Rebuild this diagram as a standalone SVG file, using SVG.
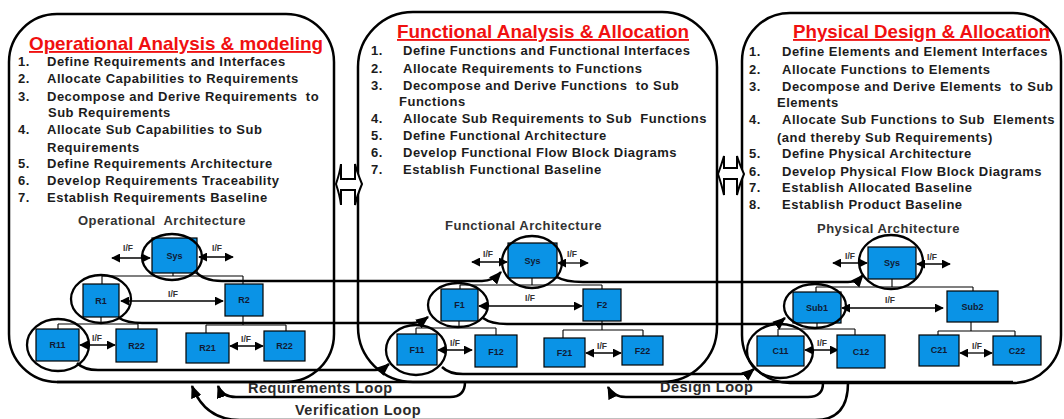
<svg xmlns="http://www.w3.org/2000/svg" width="1064" height="419" viewBox="0 0 1064 419">
<defs>
<marker id="big" viewBox="0 0 12 10" refX="11" refY="5" markerWidth="13" markerHeight="11" markerUnits="userSpaceOnUse" orient="auto"><path d="M0,0 L12,5 L0,10 z" fill="#000"/></marker>
<marker id="ifa" viewBox="0 0 10 10" refX="9" refY="5" markerWidth="9" markerHeight="9" markerUnits="userSpaceOnUse" orient="auto-start-reverse"><path d="M0,0 L10,5 L0,10 z" fill="#000"/></marker>
<style>
.panel{fill:none;stroke:#000;stroke-width:2.5}
.title{font-family:"Liberation Sans",Arial,sans-serif;font-weight:bold;font-size:18.6px;fill:#f01010;text-decoration:underline}
.li{font-family:"Liberation Sans",Arial,sans-serif;font-weight:bold;font-size:13px;letter-spacing:0.5px;fill:#1c1c1c;white-space:pre}
.arch{font-family:"Liberation Sans",Arial,sans-serif;font-weight:bold;font-size:13px;letter-spacing:0.5px;fill:#333;white-space:pre}
.loop{font-family:"Liberation Sans",Arial,sans-serif;font-weight:bold;font-size:14.5px;letter-spacing:0.5px;fill:#2a2a2a}
.box{fill:#0a93e6;stroke:#000;stroke-width:1.2}
.ring{fill:none;stroke:#000;stroke-width:2.3}
.nl{font-family:"Liberation Sans",Arial,sans-serif;font-weight:bold;font-size:9px;fill:#111a33;text-anchor:middle}
.ifl{font-family:"Liberation Sans",Arial,sans-serif;font-weight:bold;font-size:8.5px;fill:#333;text-anchor:middle}
.if{stroke:#000;stroke-width:1.3;marker-start:url(#ifa);marker-end:url(#ifa)}
.tree{fill:none;stroke:#000;stroke-width:1.1}
.conn{fill:none;stroke:#000;stroke-width:2.5}
.arr{marker-end:url(#big)}
.blk{fill:#fff;stroke:#000;stroke-width:2}
</style>
</defs>

<g id="panel-operational">
<rect class="panel" x="9" y="14" width="325" height="368" rx="48" ry="48"/>
<text class="title" x="29" y="50" textLength="294" lengthAdjust="spacingAndGlyphs">Operational Analysis &amp; modeling</text>
<g class="li">
<text x="18" y="66">1.</text><text x="47" y="66">Define Requirements and Interfaces</text>
<text x="18" y="83">2.</text><text x="47" y="83">Allocate Capabilities to Requirements</text>
<text x="18" y="101">3.</text><text x="47" y="101" xml:space="preserve">Decompose and Derive Requirements  to</text>
<text x="48" y="117">Sub Requirements</text>
<text x="18" y="134">4.</text><text x="47" y="134">Allocate Sub Capabilities to Sub</text>
<text x="47" y="152">Requirements</text>
<text x="18" y="168">5.</text><text x="47" y="168">Define Requirements Architecture</text>
<text x="18" y="185">6.</text><text x="47" y="185">Develop Requirements Traceability</text>
<text x="18" y="202">7.</text><text x="47" y="202">Establish Requirements Baseline</text>
</g>
<text class="arch" x="78" y="225" xml:space="preserve">Operational  Architecture</text>
</g>

<g id="panel-functional">
<rect class="panel" x="358" y="12" width="359" height="370" rx="55" ry="55"/>
<text class="title" x="397" y="38" textLength="292" lengthAdjust="spacingAndGlyphs">Functional Analysis &amp; Allocation</text>
<g class="li">
<text x="371" y="55">1.</text><text x="403" y="55">Define Functions and Functional Interfaces</text>
<text x="371" y="73">2.</text><text x="403" y="73">Allocate Requirements to Functions</text>
<text x="371" y="90">3.</text><text x="403" y="90" xml:space="preserve">Decompose and Derive Functions  to Sub</text>
<text x="399" y="106">Functions</text>
<text x="371" y="123">4.</text><text x="403" y="123" xml:space="preserve">Allocate Sub Requirements to Sub  Functions</text>
<text x="371" y="140">5.</text><text x="403" y="140">Define Functional Architecture</text>
<text x="371" y="157">6.</text><text x="403" y="157">Develop Functional Flow Block Diagrams</text>
<text x="371" y="174">7.</text><text x="403" y="174">Establish Functional Baseline</text>
</g>
<text class="arch" x="445" y="230">Functional Architecture</text>
</g>

<g id="panel-physical">
<rect class="panel" x="742" y="13" width="319" height="370" rx="48" ry="48"/>
<text class="title" x="793" y="38" textLength="257" lengthAdjust="spacingAndGlyphs">Physical Design &amp; Allocation</text>
<g class="li">
<text x="749" y="56">1.</text><text x="782" y="56">Define Elements and Element Interfaces</text>
<text x="749" y="74">2.</text><text x="782" y="74">Allocate Functions to Elements</text>
<text x="749" y="91">3.</text><text x="782" y="91" xml:space="preserve">Decompose and Derive Elements  to Sub</text>
<text x="777" y="107">Elements</text>
<text x="749" y="124">4.</text><text x="782" y="124" xml:space="preserve">Allocate Sub Functions to Sub  Elements</text>
<text x="777" y="142">(and thereby Sub Requirements)</text>
<text x="749" y="158">5.</text><text x="782" y="158">Define Physical Architecture</text>
<text x="749" y="176">6.</text><text x="782" y="176">Develop Physical Flow Block Diagrams</text>
<text x="749" y="192">7.</text><text x="782" y="192">Establish Allocated Baseline</text>
<text x="749" y="209">8.</text><text x="782" y="209">Establish Product Baseline</text>
</g>
<text class="arch" x="817" y="233">Physical Architecture</text>
</g>

<g id="link-op-func">
<path class="blk" d="M336,184 Q340,172 341,164 L341,179 L355,179 L355,164 Q357,172 362,184 Q357,196 355,205 L355,190 L341,190 L341,205 Q340,196 336,184 Z"/>
</g>
<g id="link-func-phys">
<path class="blk" d="M718,174 Q722,163 724,156 L724,168 L737,168 L737,156 Q739,163 744,174 Q739,186 737,195 L737,179 L724,179 L724,195 Q722,186 718,174 Z"/>
</g>

<g id="connectors">
<path class="conn" d="M57,382 H1013"/>
<path class="conn arr" d="M195,271 Q203,281 222,281 H482 Q493,281 501,272"/>
<path class="conn arr" d="M557,277 Q565,282 583,282 H848 Q857,282 863,275"/>
<path class="conn arr" d="M119,318 Q127,323 142,323 H412 Q420,323 428,317"/>
<path class="conn arr" d="M483,318 Q491,324 507,324 H770 Q778,324 785,318"/>
<path class="conn arr" d="M77,363 Q84,370 98,370 H375 Q382,370 389,364"/>
<path class="conn arr" d="M442,367 Q449,374 463,374 H741 Q748,374 754,369"/>
<path class="conn arr" d="M465,382 Q465,397 450,397 H236 Q222,397 218,386"/>
<path class="conn arr" d="M823,383 Q823,397 808,397 H626 Q613,397 608,387"/>
<path class="conn arr" d="M848,383 Q848,420 815,420 H240 Q205,420 192,386"/>
<path class="tree" d="M173,273 V276 M102,276 H243 M102,276 V284 M243,276 V284"/>
<path class="tree" d="M101,317 V324 M58,324 H138 M58,324 V329 M138,324 V329"/>
<path class="tree" d="M243,316 V325 M206,325 H286 M206,325 V333 M286,325 V331"/>
<path class="tree" d="M532,278 V285 M460,285 H602 M460,285 V289 M602,285 V289"/>
<path class="tree" d="M459,321 V328 M416,328 H496 M416,328 V334 M496,328 V335"/>
<path class="tree" d="M602,321 V330 M563,330 H643 M563,330 V338 M643,330 V336"/>
<path class="tree" d="M892,279 V287 M816,287 H973 M816,287 V292 M973,287 V291"/>
<path class="tree" d="M817,323 V329 M778,329 H855 M778,329 V336 M855,329 V335"/>
<path class="tree" d="M971,322 V331 M938,331 H1015 M938,331 V335 M1015,331 V336"/>
<line class="if" x1="112" y1="258" x2="150" y2="258"/>
<line class="if" x1="199" y1="257" x2="233" y2="257"/>
<line class="if" x1="121" y1="301" x2="223" y2="301"/>
<line class="if" x1="80" y1="345" x2="115" y2="345"/>
<line class="if" x1="230" y1="346" x2="263" y2="346"/>
<line class="if" x1="472" y1="262" x2="507" y2="262"/>
<line class="if" x1="558" y1="263" x2="588" y2="263"/>
<line class="if" x1="479" y1="306" x2="582" y2="306"/>
<line class="if" x1="438" y1="350" x2="472" y2="350"/>
<line class="if" x1="586" y1="353" x2="621" y2="353"/>
<line class="if" x1="833" y1="263" x2="867" y2="263"/>
<line class="if" x1="917" y1="264" x2="950" y2="264"/>
<line class="if" x1="842" y1="308" x2="943" y2="308"/>
<line class="if" x1="805" y1="350" x2="838" y2="350"/>
<line class="if" x1="960" y1="353" x2="992" y2="353"/>
<g class="ifl">
<text x="128" y="251">I/F</text><text x="217" y="251">I/F</text><text x="173" y="297">I/F</text>
<text x="97" y="341">I/F</text><text x="246" y="342">I/F</text>
<text x="488" y="257">I/F</text><text x="572" y="257">I/F</text><text x="530" y="301">I/F</text>
<text x="455" y="346">I/F</text><text x="602" y="349">I/F</text>
<text x="850" y="259">I/F</text><text x="932" y="260">I/F</text><text x="890" y="303">I/F</text>
<text x="822" y="346">I/F</text><text x="977" y="349">I/F</text>
</g>
</g>

<g id="op-sys"><rect class="box" x="152" y="238" width="45" height="35"/><text class="nl" x="174.5" y="259">Sys</text><ellipse class="ring" cx="172" cy="257" rx="30" ry="23"/></g>
<g id="op-r1"><rect class="box" x="83" y="284" width="36" height="33"/><text class="nl" x="101" y="304">R1</text><ellipse class="ring" cx="101" cy="299" rx="30" ry="24"/></g>
<g id="op-r2"><rect class="box" x="225" y="284" width="38" height="32"/><text class="nl" x="244" y="303">R2</text></g>
<g id="op-r11"><rect class="box" x="36" y="329" width="43" height="32"/><text class="nl" x="57.5" y="348">R11</text><ellipse class="ring" cx="58" cy="345" rx="31" ry="26"/></g>
<g id="op-r22a"><rect class="box" x="116" y="329" width="41" height="33"/><text class="nl" x="136.5" y="349">R22</text></g>
<g id="op-r21"><rect class="box" x="186" y="333" width="43" height="30"/><text class="nl" x="207.5" y="351">R21</text></g>
<g id="op-r22b"><rect class="box" x="264" y="331" width="41" height="30"/><text class="nl" x="284.5" y="349">R22</text></g>

<g id="fn-sys"><rect class="box" x="508" y="243" width="49" height="35"/><text class="nl" x="532.5" y="264">Sys</text><ellipse class="ring" cx="532" cy="262" rx="30" ry="26"/></g>
<g id="fn-f1"><rect class="box" x="441" y="289" width="37" height="32"/><text class="nl" x="459.5" y="308">F1</text><ellipse class="ring" cx="458" cy="305" rx="30" ry="22"/></g>
<g id="fn-f2"><rect class="box" x="583" y="289" width="38" height="32"/><text class="nl" x="602" y="308">F2</text></g>
<g id="fn-f11"><rect class="box" x="397" y="334" width="40" height="31"/><text class="nl" x="417" y="353">F11</text><ellipse class="ring" cx="416" cy="350" rx="30" ry="25"/></g>
<g id="fn-f12"><rect class="box" x="475" y="335" width="42" height="32"/><text class="nl" x="496" y="355">F12</text></g>
<g id="fn-f21"><rect class="box" x="544" y="338" width="41" height="29"/><text class="nl" x="564.5" y="356">F21</text></g>
<g id="fn-f22"><rect class="box" x="622" y="336" width="41" height="29"/><text class="nl" x="642.5" y="354">F22</text></g>

<g id="ph-sys"><rect class="box" x="868" y="247" width="48" height="32"/><text class="nl" x="892" y="266">Sys</text><ellipse class="ring" cx="891" cy="262" rx="32" ry="27"/></g>
<g id="ph-sub1"><rect class="box" x="793" y="292" width="48" height="31"/><text class="nl" x="817" y="311">Sub1</text><ellipse class="ring" cx="815" cy="306" rx="31" ry="22"/></g>
<g id="ph-sub2"><rect class="box" x="947" y="291" width="51" height="31"/><text class="nl" x="972.5" y="310">Sub2</text></g>
<g id="ph-c11"><rect class="box" x="757" y="336" width="47" height="30"/><text class="nl" x="780.5" y="354">C11</text><ellipse class="ring" cx="780" cy="351" rx="33" ry="27"/></g>
<g id="ph-c12"><rect class="box" x="837" y="335" width="48" height="33"/><text class="nl" x="861" y="355">C12</text></g>
<g id="ph-c21"><rect class="box" x="919" y="335" width="40" height="31"/><text class="nl" x="939" y="353">C21</text></g>
<g id="ph-c22"><rect class="box" x="993" y="336" width="48" height="29"/><text class="nl" x="1017" y="354">C22</text></g>

<g id="loop-labels">
<text class="loop" x="248" y="393">Requirements Loop</text>
<text class="loop" x="660" y="392">Design Loop</text>
<text class="loop" x="295" y="415">Verification Loop</text>
</g>
</svg>
